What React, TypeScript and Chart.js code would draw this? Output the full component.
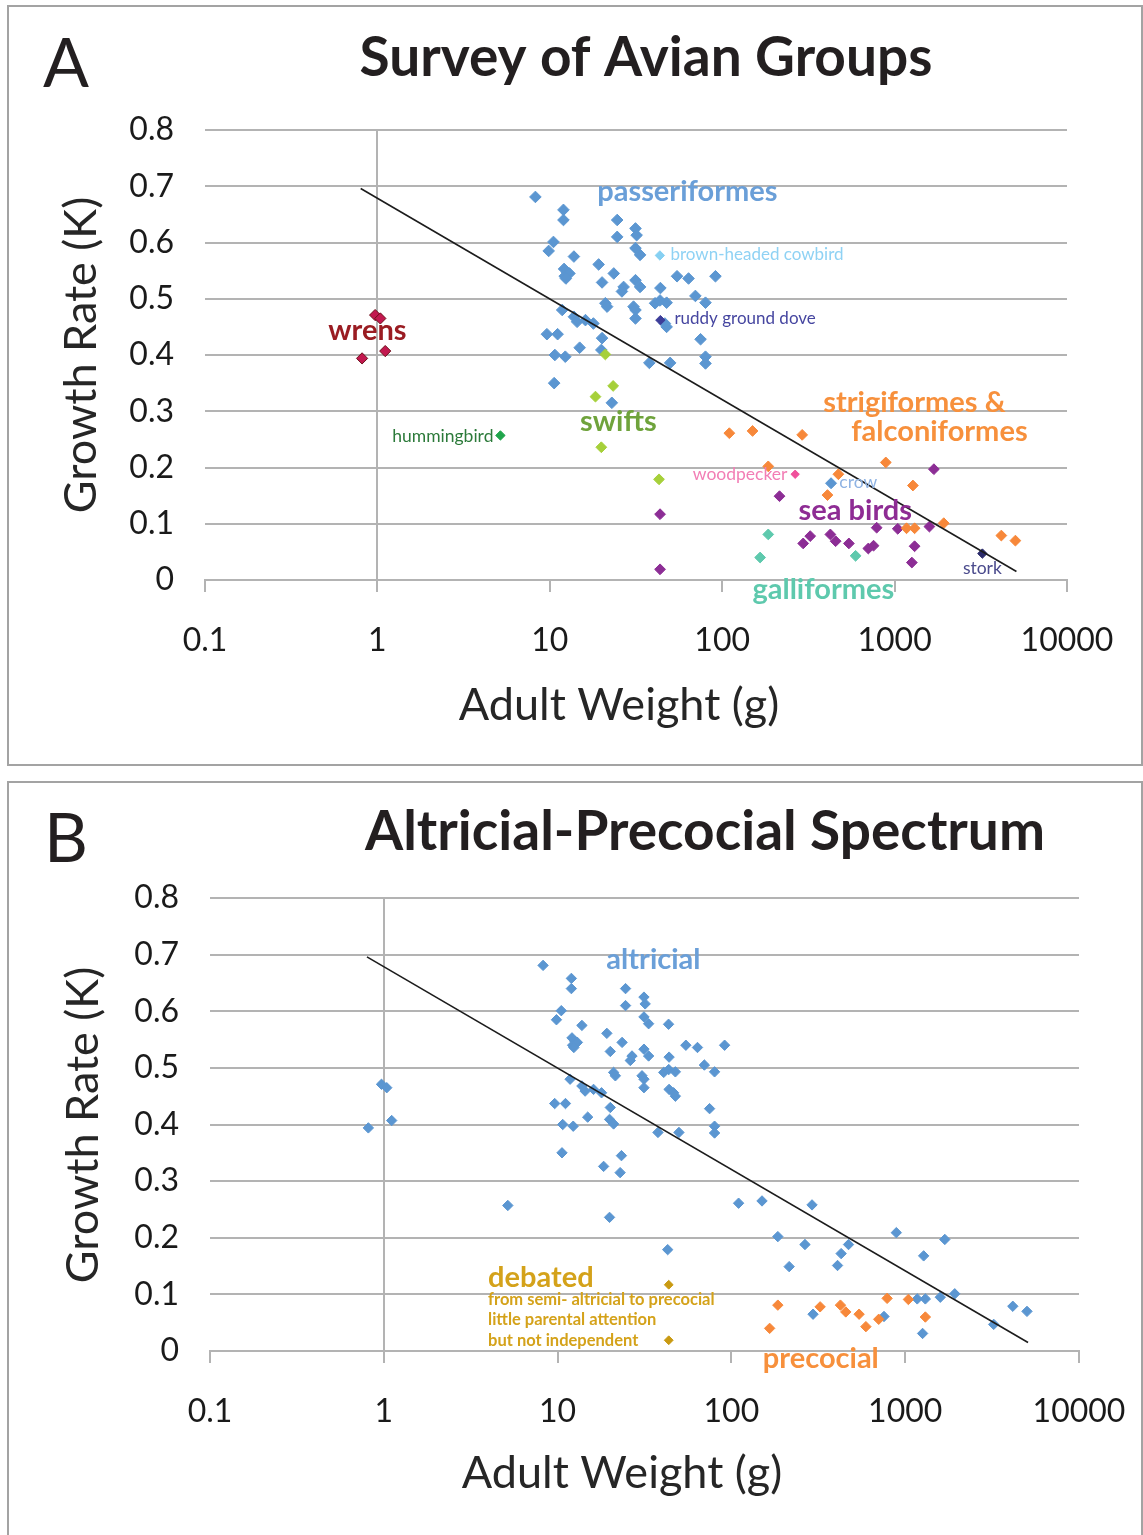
import React, { useEffect, useRef } from 'react';
import { Chart, registerables } from 'chart.js';

Chart.register(...registerables);

type P = [number, number];

// ---------- tick values ----------
const xTickValues = [0.1, 1, 10, 100, 1000, 10000];
const yTickValues = [0, 0.1, 0.2, 0.3, 0.4, 0.5, 0.6, 0.7, 0.8];

// ---------- data: [adult weight (g), growth rate K] ----------
const passeriformes: P[] = [
  [8.25, 0.681], [12.0, 0.658], [12.0, 0.640], [24.6, 0.640], [31.4, 0.625], [31.9, 0.613],
  [24.6, 0.610], [10.5, 0.601], [9.85, 0.585], [31.4, 0.590], [33.4, 0.578], [13.8, 0.575],
  [19.2, 0.561], [12.1, 0.553], [12.6, 0.547], [12.2, 0.540], [13.0, 0.545], [12.4, 0.536],
  [23.5, 0.545], [54.7, 0.540], [63.8, 0.536], [91.4, 0.540], [20.1, 0.529], [31.4, 0.533],
  [33.4, 0.521], [26.8, 0.521], [26.2, 0.513], [43.8, 0.519], [69.9, 0.505], [40.8, 0.492],
  [43.6, 0.497], [47.6, 0.493], [80.0, 0.493], [21.0, 0.492], [21.5, 0.486], [30.6, 0.486],
  [31.4, 0.480], [31.4, 0.465], [46.5, 0.456], [47.6, 0.450], [11.8, 0.480], [13.8, 0.468],
  [14.4, 0.459], [16.1, 0.462], [17.9, 0.456], [20.1, 0.430], [9.62, 0.437], [11.1, 0.437],
  [14.9, 0.413], [19.9, 0.409], [10.7, 0.400], [12.3, 0.397], [74.9, 0.428], [80.0, 0.397],
  [80.0, 0.385], [37.8, 0.386], [49.9, 0.386], [10.6, 0.350], [22.9, 0.315],
];
const cowbird: P[] = [[43.5, 0.577]];
const ruddyGroundDove: P[] = [[43.8, 0.462]];
const wrens: P[] = [[0.97, 0.471], [1.04, 0.465], [1.11, 0.407], [0.815, 0.394]];
const hummingbird: P[] = [[5.17, 0.257]];
const swifts: P[] = [[21.0, 0.401], [23.3, 0.345], [18.4, 0.326], [19.9, 0.236], [43.0, 0.179]];
const strigiFalconiformes: P[] = [
  [110, 0.261], [150, 0.265], [291, 0.258], [889, 0.209], [185, 0.202], [472, 0.188],
  [408, 0.151], [1277, 0.168], [1173, 0.092], [1306, 0.092], [1928, 0.101], [4160, 0.079],
  [5020, 0.070],
];
const woodpecker: P[] = [[265, 0.188]];
const crow: P[] = [[428, 0.172]];
const seaBirdsAltricial: P[] = [[1690, 0.197], [215, 0.149], [1592, 0.095], [295, 0.065], [755, 0.061], [1259, 0.031]];
const seaBirdsPrecocial: P[] = [[787, 0.093], [1043, 0.091], [324, 0.078], [424, 0.081], [455, 0.069], [543, 0.065], [704, 0.056], [1306, 0.060]];
const seaBirdsDebated: P[] = [[43.6, 0.117], [43.6, 0.019]];
const galliformes: P[] = [[185, 0.081], [166, 0.040], [594, 0.043]];
const stork: P[] = [[3230, 0.047]];
const trendLine: P[] = [[0.8, 0.696], [5090, 0.015]];

// Panel B groupings
const altricial: P[] = [
  ...passeriformes, ...cowbird, ...ruddyGroundDove, ...wrens, ...hummingbird, ...swifts,
  ...strigiFalconiformes, ...woodpecker, ...crow, ...seaBirdsAltricial, ...stork,
];
const precocial: P[] = [...seaBirdsPrecocial, ...galliformes];
const debated: P[] = [...seaBirdsDebated];

// ---------- styling ----------
const FONT = 'Lato, "Open Sans", sans-serif';
const GRID = '#b3b3b3';
const BLUE = '#5b96d1';
const ORANGE = '#f7883a';
const PURPLE = '#8c2d95';

Chart.defaults.font.family = FONT;

const toXY = (arr: P[]) => arr.map(([x, y]) => ({ x, y }));

function pts(label: string, data: P[], color: string, radius: number, order: number, border?: string) {
  return {
    label,
    data: toXY(data),
    pointStyle: 'rectRot',
    pointRadius: radius,
    pointHoverRadius: radius,
    backgroundColor: color,
    borderColor: border ?? color,
    borderWidth: 1,
    showLine: false,
    order,
  };
}

function trend() {
  return {
    label: 'trend',
    data: toXY(trendLine),
    showLine: true,
    borderColor: '#1c1c1c',
    borderWidth: 1.6,
    pointRadius: 0,
    pointHoverRadius: 0,
    fill: false,
    tension: 0,
    order: 0,
  };
}

interface Label {
  text: string; x: number; y: number; align: CanvasTextAlign; size: number; bold: boolean; color: string;
}

const BIG = 29;
const SMALL = 17.5;

const labelsA: Label[] = [
  { text: 'passeriformes', x: 62.8, y: 0.690, align: 'center', size: BIG, bold: true, color: '#6a9fd8' },
  { text: 'brown-headed cowbird', x: 50.1, y: 0.578, align: 'left', size: 17, bold: false, color: '#8fd2f4' },
  { text: 'ruddy ground dove', x: 52.8, y: 0.464, align: 'left', size: 17, bold: false, color: '#4646a0' },
  { text: 'wrens', x: 0.875, y: 0.443, align: 'center', size: BIG, bold: true, color: '#9a1c22' },
  { text: 'hummingbird', x: 4.71, y: 0.256, align: 'right', size: SMALL, bold: false, color: '#2c7a3a' },
  { text: 'swifts', x: 25.0, y: 0.281, align: 'center', size: BIG, bold: true, color: '#6fa33c' },
  { text: 'strigiformes &', x: 1303, y: 0.315, align: 'center', size: BIG, bold: true, color: '#f7903c' },
  { text: 'falconiformes', x: 1820, y: 0.263, align: 'center', size: BIG, bold: true, color: '#f7903c' },
  { text: 'woodpecker', x: 239, y: 0.187, align: 'right', size: SMALL, bold: false, color: '#f27eb5' },
  { text: 'crow', x: 478, y: 0.174, align: 'left', size: SMALL, bold: false, color: '#8fb3e3' },
  { text: 'sea birds', x: 592, y: 0.123, align: 'center', size: BIG, bold: true, color: '#8e2c94' },
  { text: 'galliformes', x: 386, y: -0.018, align: 'center', size: BIG, bold: true, color: '#5ec9ad' },
  { text: 'stork', x: 3230, y: 0.020, align: 'center', size: SMALL, bold: false, color: '#4a4a8c' },
];

const labelsB: Label[] = [
  { text: 'altricial', x: 35.6, y: 0.691, align: 'center', size: BIG, bold: true, color: '#6a9fd8' },
  { text: 'debated', x: 3.98, y: 0.129, align: 'left', size: BIG, bold: true, color: '#d4a21a' },
  { text: 'from semi- altricial to precocial', x: 3.98, y: 0.090, align: 'left', size: 16.5, bold: true, color: '#d4a21a' },
  { text: 'little parental attention', x: 3.98, y: 0.055, align: 'left', size: 16.5, bold: true, color: '#d4a21a' },
  { text: 'but not independent', x: 3.98, y: 0.019, align: 'left', size: 16.5, bold: true, color: '#d4a21a' },
  { text: 'precocial', x: 327, y: -0.014, align: 'center', size: BIG, bold: true, color: '#f7903c' },
];

const datasetsA = [
  trend(),
  pts('brown-headed cowbird', cowbird, '#86d0f2', 4.7, 1),
  pts('ruddy ground dove', ruddyGroundDove, '#3d3d99', 4.7, 1),
  pts('hummingbird', hummingbird, '#1fa54b', 4.7, 1),
  pts('woodpecker', woodpecker, '#f0509b', 4.2, 1),
  pts('crow', crow, BLUE, 5.5, 1),
  pts('stork', stork, '#2b2b6b', 4.7, 1),
  pts('wrens', wrens, '#c2184f', 5.6, 2, '#6d0f1a'),
  pts('swifts', swifts, '#a6d03a', 5.4, 2),
  pts('strigiformes & falconiformes', strigiFalconiformes, ORANGE, 5.4, 2),
  pts('sea birds', [...seaBirdsAltricial, ...seaBirdsPrecocial, ...seaBirdsDebated], PURPLE, 5.4, 2),
  pts('galliformes', galliformes, '#5ec9ad', 5.4, 2),
  pts('passeriformes', passeriformes, BLUE, 5.8, 3),
];

const datasetsB = [
  trend(),
  pts('debated', debated, '#c99a12', 4.4, 1),
  pts('precocial', precocial, ORANGE, 5.2, 2),
  pts('altricial', altricial, BLUE, 5.2, 3),
];

interface PanelSpec {
  height: number; top: number;
  plotLeft: number; plotRight: number; plotTop: number; plotBottom: number;
  letter: string; letterX: number; letterY: number;
  title: string; titleX: number; titleY: number;
  xTitle: string; xTitleX: number; xTitleY: number;
  yTitle: string; yTitleX: number; yTitleY: number;
  datasets: any[]; labels: Label[];
}

const W = 1143;

const panelA: PanelSpec = {
  height: 772, top: 0,
  plotLeft: 205, plotRight: 1067, plotTop: 130, plotBottom: 580,
  letter: 'A', letterX: 43, letterY: 87,
  title: 'Survey of Avian Groups', titleX: 646, titleY: 76,
  xTitle: 'Adult Weight (g)', xTitleX: 619, xTitleY: 720,
  yTitle: 'Growth Rate (K)', yTitleX: 96, yTitleY: 355,
  datasets: datasetsA, labels: labelsA,
};

const panelB: PanelSpec = {
  height: 763, top: 772,
  plotLeft: 210, plotRight: 1079, plotTop: 126, plotBottom: 579,
  letter: 'B', letterX: 44, letterY: 90,
  title: 'Altricial-Precocial Spectrum', titleX: 705, titleY: 78,
  xTitle: 'Adult Weight (g)', xTitleX: 622, xTitleY: 716,
  yTitle: 'Growth Rate (K)', yTitleX: 98, yTitleY: 353,
  datasets: datasetsB, labels: labelsB,
};

function makeTextPlugin(spec: PanelSpec) {
  return {
    id: 'panelText',
    beforeDatasetsDraw(chart: any) {
      const { ctx, scales } = chart;
      const x = scales.x, y = scales.y;
      const px = Math.round(x.getPixelForValue(1));
      ctx.save();
      ctx.strokeStyle = GRID;
      ctx.lineWidth = 2;
      ctx.beginPath();
      ctx.moveTo(px, y.getPixelForValue(0.8));
      ctx.lineTo(px, y.getPixelForValue(0));
      ctx.stroke();
      ctx.restore();
    },
    afterDraw(chart: any) {
      const { ctx, scales } = chart;
      const x = scales.x, y = scales.y;
      ctx.save();
      ctx.textBaseline = 'alphabetic';
      // panel letter
      ctx.fillStyle = '#231f20';
      ctx.textAlign = 'left';
      ctx.font = `68px ${FONT}`;
      ctx.fillText(spec.letter, spec.letterX, spec.letterY);
      // title
      ctx.textAlign = 'center';
      ctx.font = `bold 55px ${FONT}`;
      ctx.fillText(spec.title, spec.titleX, spec.titleY);
      // x title
      ctx.fillStyle = '#262626';
      ctx.font = `45px ${FONT}`;
      ctx.fillText(spec.xTitle, spec.xTitleX, spec.xTitleY);
      // y title
      ctx.save();
      ctx.translate(spec.yTitleX, spec.yTitleY);
      ctx.rotate(-Math.PI / 2);
      ctx.fillText(spec.yTitle, 0, 0);
      ctx.restore();
      // annotations
      ctx.textBaseline = 'middle';
      for (const l of spec.labels) {
        ctx.font = `${l.bold ? 'bold ' : ''}${l.size}px ${FONT}`;
        ctx.fillStyle = l.color;
        ctx.textAlign = l.align;
        ctx.fillText(l.text, x.getPixelForValue(l.x), y.getPixelForValue(l.y));
      }
      ctx.restore();
    },
  };
}

function buildConfig(spec: PanelSpec): any {
  const tickFont = { family: FONT, size: 32 };
  return {
    type: 'scatter',
    data: { datasets: spec.datasets },
    options: {
      responsive: false,
      maintainAspectRatio: false,
      animation: false,
      events: [],
      layout: {
        padding: { top: spec.plotTop, right: W - spec.plotRight, bottom: 0, left: 0 },
      },
      plugins: {
        legend: { display: false },
        tooltip: { enabled: false },
        title: { display: false },
      },
      scales: {
        x: {
          type: 'logarithmic',
          position: 'bottom',
          min: 0.1,
          max: 10000,
          afterBuildTicks: (s: any) => { s.ticks = xTickValues.map((v) => ({ value: v })); },
          afterFit: (s: any) => {
            s.height = spec.height - spec.plotBottom;
            s.paddingLeft = 0;
            s.paddingRight = 0;
          },
          ticks: {
            callback: (v: any) => String(v),
            font: tickFont,
            color: '#1a1a1a',
            padding: 29,
            maxRotation: 0,
            autoSkip: false,
          },
          grid: { drawOnChartArea: false, drawTicks: true, tickLength: 12, color: GRID, lineWidth: 2 },
          border: { display: true, color: GRID, width: 2 },
        },
        y: {
          type: 'linear',
          position: 'left',
          min: 0,
          max: 0.8,
          afterBuildTicks: (s: any) => { s.ticks = yTickValues.map((v) => ({ value: v })); },
          afterFit: (s: any) => {
            s.width = spec.plotLeft;
            s.paddingTop = 0;
            s.paddingBottom = 0;
          },
          ticks: {
            callback: (v: any) => (Number(v) === 0 ? '0' : Number(v).toFixed(1)),
            font: tickFont,
            color: '#1a1a1a',
            padding: 31,
          },
          grid: { drawTicks: false, color: GRID, lineWidth: 2 },
          border: { display: false },
        },
      },
    },
    plugins: [makeTextPlugin(spec)],
  };
}

function Panel({ spec }: { spec: PanelSpec }) {
  const ref = useRef<HTMLCanvasElement>(null);
  useEffect(() => {
    const chart = new Chart(ref.current as HTMLCanvasElement, buildConfig(spec));
    return () => chart.destroy();
  }, [spec]);
  return (
    <canvas
      ref={ref}
      width={W}
      height={spec.height}
      style={{ position: 'absolute', left: 0, top: spec.top, width: W, height: spec.height }}
    />
  );
}

export default function App() {
  return (
    <div style={{ position: 'absolute', left: 0, top: 0, width: W, height: 1535, background: '#fff', overflow: 'hidden' }}>
      <div style={{ position: 'absolute', left: 7, top: 5, width: 1136, height: 761, border: '2px solid #a3a3a3', boxSizing: 'border-box' }} />
      <div style={{ position: 'absolute', left: 7, top: 781, width: 1136, height: 770, border: '2px solid #a3a3a3', boxSizing: 'border-box' }} />
      <Panel spec={panelA} />
      <Panel spec={panelB} />
    </div>
  );
}
